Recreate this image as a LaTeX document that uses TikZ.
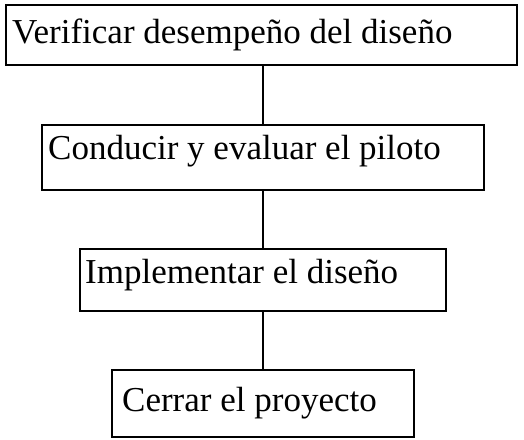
\documentclass[tikz,border=0pt]{standalone}
\usepackage{fontspec}
\setmainfont{Liberation Serif}
\begin{document}
\begin{tikzpicture}[x=1pt,y=-1pt,
  box/.style={draw, line width=2pt, inner sep=0pt},
  lbl/.style={anchor=base west, inner sep=0pt, font=\fontsize{35}{40}\selectfont},
  conn/.style={line width=2pt}]
\useasboundingbox (0,0) rectangle (524,439);
\node[box, minimum width=511pt, minimum height=60pt] (b1) at (261.5,35) {};
\node[box, minimum width=442pt, minimum height=65pt] (b2) at (263,157.5) {};
\node[box, minimum width=366pt, minimum height=62pt] (b3) at (263,280) {};
\node[box, minimum width=302pt, minimum height=67pt] (b4) at (263,403.5) {};
\node[lbl] (t1) at (12,43) {Verificar desempeño del diseño};
\node[lbl] (t2) at (48,159) {Conducir y evaluar el piloto};
\node[lbl] (t3) at (85,283) {Implementar el diseño};
\node[lbl] (t4) at (122,411) {Cerrar el proyecto};
\draw[conn] (b2.north |- b1.south) -- (b2.north);
\draw[conn] (b2.south) -- (b3.north);
\draw[conn] (b3.south) -- (b4.north);
\end{tikzpicture}
\end{document}
